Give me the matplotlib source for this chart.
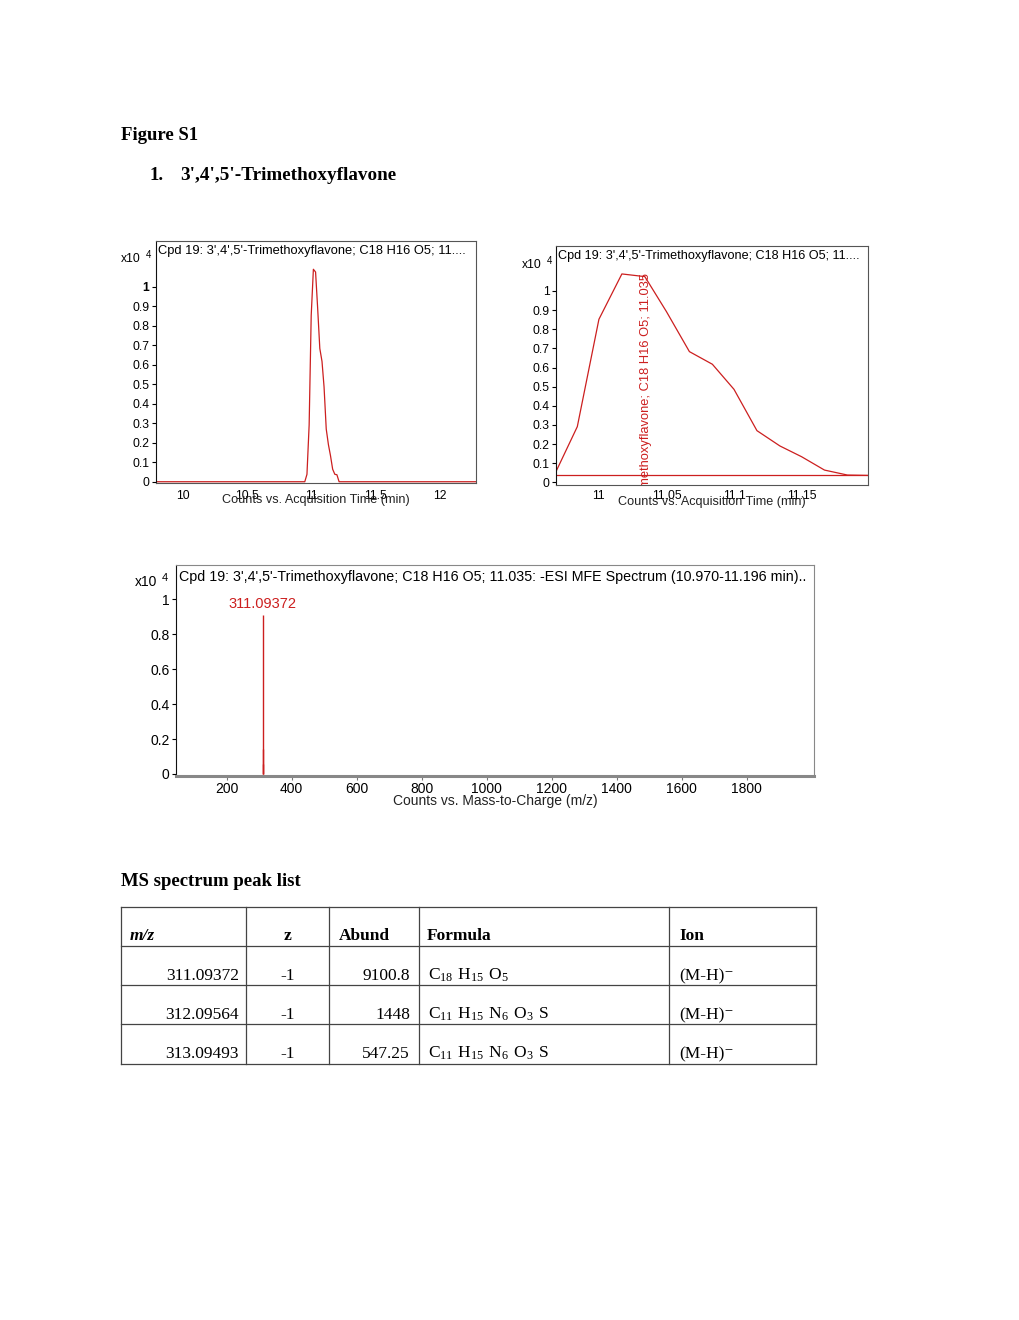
import matplotlib.pyplot as plt
from matplotlib.lines import Line2D

plt.rcParams['font.family'] = ['Liberation Sans', 'DejaVu Sans']

W, H = 1020, 1320

# compound info
cpd_title = "Cpd 19: 3',4',5'-Trimethoxyflavone; C18 H16 O5; 11...."
spec_title = ("Cpd 19: 3',4',5'-Trimethoxyflavone; C18 H16 O5; 11.035: "
              "-ESI MFE Spectrum (10.970-11.196 min)..")
peak_label = "3',4',5'-Trimethoxyflavone; C18 H16 O5; 11.035"
rt_apex = 11.035

# EIC, retention time (min) vs counts (x10^4)
rt_peak = [10.967, 10.984, 11.000, 11.017, 11.034, 11.050, 11.067, 11.084,
           11.100, 11.117, 11.134, 11.150, 11.167, 11.184, 11.200]
counts_peak = [0.038, 0.291, 0.852, 1.089, 1.075, 0.892, 0.683, 0.617,
               0.486, 0.270, 0.190, 0.134, 0.064, 0.038, 0.036]
rt_before = [9.79, 10.95]
rt_after = [11.217, 12.28]
baseline_level = 0.036

# MS peak list
mz = [311.09372, 312.09564, 313.09493]
charge = [-1, -1, -1]
abund = [9100.8, 1448, 547.25]
formulas = [r"$\mathregular{C_{18}\ H_{15}\ O_{5}}$",
            r"$\mathregular{C_{11}\ H_{15}\ N_{6}\ O_{3}\ S}$",
            r"$\mathregular{C_{11}\ H_{15}\ N_{6}\ O_{3}\ S}$"]
ions = ["(M-H)\u207b", "(M-H)\u207b", "(M-H)\u207b"]

tl_yticks = [0, 0.1, 0.2, 0.3, 0.4, 0.5, 0.6, 0.7, 0.8, 0.9, 1]
tl_xticks = [10, 10.5, 11, 11.5, 12]
tr_xticks = [11, 11.05, 11.1, 11.15]
ms_yticks = [0, 0.2, 0.4, 0.6, 0.8, 1]
ms_xticks = [200, 400, 600, 800, 1000, 1200, 1400, 1600, 1800]

red = '#cc1f1f'


def rect(x0, y0, x1, y1):
    return [x0 / W, 1 - y1 / H, (x1 - x0) / W, (y1 - y0) / H]


def ticklabels(vals):
    return ['%g' % v for v in vals]


fig = plt.figure(figsize=(W / 100, H / 100), dpi=100)

page = fig.add_axes([0, 0, 1, 1])
page.set_xlim(0, W)
page.set_ylim(H, 0)
page.axis('off')

serif = 'Liberation Serif'
page.text(121, 140, "Figure S1", family=serif, weight='bold', fontsize=13.5)
page.text(150, 180, "1.", family=serif, weight='bold', fontsize=13.5)
page.text(180, 180, "3',4',5'-Trimethoxyflavone", family=serif, weight='bold', fontsize=13.8)
page.text(121, 886, "MS spectrum peak list", family=serif, weight='bold', fontsize=13.5)

# ---- chromatogram, full range
ax1 = fig.add_axes(rect(155.7, 241, 475.7, 483.3))
ax1.plot(rt_before + rt_peak + rt_after, [0, 0] + counts_peak + [0, 0],
         color=red, lw=0.9)
ax1.set_xlim(9.79, 12.28)
ax1.set_ylim(-0.008, 1.234)
ax1.set_yticks(tl_yticks, ticklabels(tl_yticks))
ax1.set_xticks(tl_xticks, ticklabels(tl_xticks))
ax1.get_yticklabels()[-1].set_fontweight('bold')
ax1.tick_params(axis='y', length=3, pad=1.5, labelsize=8.7)
ax1.tick_params(axis='x', length=0, pad=4.5, labelsize=8.7)
ax1.set_xlabel("Counts vs. Acquisition Time (min)", fontsize=9.1, color='#222', va='center')
ax1.xaxis.set_label_coords(0.5, -0.069)
ax1.text(0.008, 0.982, cpd_title, transform=ax1.transAxes, va='top', ha='left', fontsize=9.3)
for s in ax1.spines.values():
    s.set_color('#555')
    s.set_linewidth(0.8)
ax1.spines['left'].set_color('#111')
page.text(121, 259, "x10", fontsize=8.7, va='center')
page.text(146, 255, "4", fontsize=7, va='center')

# ---- chromatogram, zoomed on peak
ax2 = fig.add_axes(rect(555.7, 246, 867.7, 485))
ax2.plot(rt_peak, counts_peak, color=red, lw=0.9)
ax2.axhline(baseline_level, color=red, lw=0.9)
ax2.text(rt_apex, 1.094, peak_label, rotation=90, ha='center', va='top',
         color=red, fontsize=9.3, clip_on=True)
ax2.set_xlim(10.968, 11.199)
ax2.set_ylim(-0.014, 1.235)
ax2.set_yticks(tl_yticks, ticklabels(tl_yticks))
ax2.set_xticks(tr_xticks, ticklabels(tr_xticks))
ax2.tick_params(axis='y', length=3, pad=1.5, labelsize=8.7)
ax2.tick_params(axis='x', length=0, pad=3.5, labelsize=8.7)
ax2.set_xlabel("Counts vs. Acquisition Time (min)", fontsize=9.1, color='#222', va='center')
ax2.xaxis.set_label_coords(0.502, -0.07)
ax2.text(0.008, 0.982, cpd_title, transform=ax2.transAxes, va='top', ha='left', fontsize=9.1)
for s in ax2.spines.values():
    s.set_color('#555')
    s.set_linewidth(0.8)
ax2.spines['left'].set_color('#111')
page.text(522, 265, "x10", fontsize=8.7, va='center')
page.text(547, 261, "4", fontsize=7, va='center')

# ---- MS spectrum
ax3 = fig.add_axes(rect(175.7, 564.7, 814, 775.7))
ax3.vlines(mz, 0, [a / 1e4 for a in abund], color=red, lw=1.0)
ax3.text(mz[0], abund[0] / 1e4 + 0.02, '%.5f' % mz[0], color=red,
         ha='center', va='bottom', fontsize=10.5)
ax3.set_xlim(43, 2007)
ax3.set_ylim(-0.01, 1.198)
ax3.set_yticks(ms_yticks, ticklabels(ms_yticks))
ax3.set_xticks(ms_xticks, ticklabels(ms_xticks))
ax3.tick_params(axis='y', length=3, pad=1.5, labelsize=10)
ax3.tick_params(axis='x', length=3, pad=1.5, labelsize=10, color='#777')
ax3.set_xlabel("Counts vs. Mass-to-Charge (m/z)", fontsize=10, color='#222', va='center')
ax3.xaxis.set_label_coords(0.50, -0.12)
ax3.text(0.005, 0.975, spec_title, transform=ax3.transAxes, va='top', ha='left', fontsize=10.3)
for s in ax3.spines.values():
    s.set_color('#888')
    s.set_linewidth(0.8)
ax3.spines['left'].set_color('#111')
ax3.spines['bottom'].set_linewidth(2.2)
page.text(135, 582, "x10", fontsize=10, va='center')
page.text(162, 578, "4", fontsize=8, va='center')

# ---- peak list table
col_x = [121, 246, 329.3, 419.3, 669.3, 815.7]
row_y = [907.3, 946, 985, 1024.3, 1064]
line_kw = dict(color='#444', lw=0.9)
for y in row_y:
    page.add_line(Line2D([col_x[0], col_x[-1]], [y, y], **line_kw))
for x in col_x:
    page.add_line(Line2D([x, x], [row_y[0], row_y[-1]], **line_kw))

tfs = 12.5
hy = 940
page.text(130, hy, "m/z", family=serif, weight='bold', style='italic', fontsize=tfs)
page.text(288, hy, "z", family=serif, weight='bold', fontsize=tfs, ha='center')
page.text(339, hy, "Abund", family=serif, weight='bold', fontsize=tfs)
page.text(427, hy, "Formula", family=serif, weight='bold', fontsize=tfs)
page.text(679, hy, "Ion", family=serif, weight='bold', fontsize=tfs)

row_base = [980, 1019, 1058]
for i in range(len(mz)):
    y = row_base[i]
    page.text(239, y, '%.5f' % mz[i], family=serif, fontsize=tfs, ha='right')
    page.text(288, y, '%d' % charge[i], family=serif, fontsize=tfs, ha='center')
    page.text(410, y, '%g' % abund[i], family=serif, fontsize=tfs, ha='right')
    page.text(428, y, formulas[i], family=serif, fontsize=tfs)
    page.text(679, y, ions[i], family=[serif, 'DejaVu Serif'], fontsize=tfs)

plt.savefig('out.png', dpi=100)
